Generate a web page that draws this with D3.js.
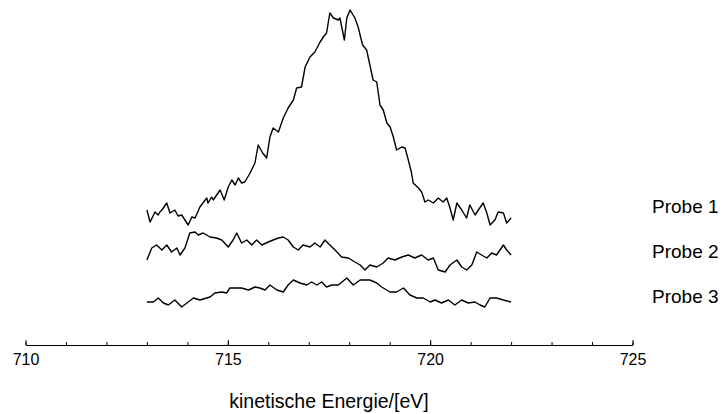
<!DOCTYPE html>
<html>
<head>
<meta charset="utf-8">
<script src="https://cdn.jsdelivr.net/npm/d3@7"></script>
<style>
  html, body { margin: 0; padding: 0; background: #fff; }
  svg { display: block; font-family: "Liberation Sans", Arial, Helvetica, sans-serif; }
</style>
</head>
<body>
<svg id="chart" width="724" height="414"></svg>
<script>
// ---- data (kinetic energy in eV, intensity in arbitrary units, offset stacked) ----
const energy1 = [713.00,713.08,713.20,713.28,713.32,713.37,713.49,713.57,713.69,713.77,713.86,713.94,714.02,714.11,714.19,714.31,714.44,714.48,714.51,714.60,714.64,714.81,714.91,715.01,715.10,715.18,715.26,715.34,715.42,715.55,715.67,715.75,715.86,715.96,716.04,716.12,716.25,716.37,716.49,716.62,716.70,716.82,716.91,717.03,717.15,717.28,717.36,717.44,717.52,717.61,717.73,717.77,717.88,717.94,718.02,718.14,718.22,718.33,718.43,718.51,718.59,718.68,718.76,718.84,718.93,719.01,719.09,719.17,719.30,719.38,719.46,719.54,719.58,719.71,719.79,719.87,719.95,720.08,720.20,720.32,720.41,720.49,720.57,720.66,720.78,720.90,720.98,721.11,721.19,721.31,721.40,721.48,721.60,721.68,721.81,721.89,722.00];
const probe1 = [110,98,108,105,108,110,117,107,110,104,105,100,95,103,102,113,120,122,117,123,120,130,120,133,140,135,142,137,138,147,157,175,167,162,183,192,188,202,212,220,232,233,253,263,268,278,283,287,307,302,300,302,280,302,310,302,293,275,270,255,240,238,215,210,197,193,183,170,173,172,160,147,137,132,128,118,120,117,122,118,122,112,100,117,110,102,115,105,110,117,107,95,100,108,107,97,102];

const energy2 = [713.00,713.12,713.24,713.37,713.49,713.61,713.74,713.82,713.94,714.06,714.19,714.27,714.39,714.56,714.72,714.85,715.01,715.13,715.22,715.34,715.47,715.59,715.71,715.84,716.00,716.12,716.25,716.37,716.49,716.62,716.74,716.86,717.03,717.15,717.28,717.40,717.52,717.65,717.81,717.98,718.14,718.27,718.39,718.51,718.68,718.84,718.96,719.13,719.30,719.46,719.62,719.79,719.95,720.08,720.20,720.37,720.49,720.66,720.78,720.90,721.03,721.15,721.27,721.40,721.52,721.64,721.81,721.89,722.00];
const probe2 = [60,72,75,70,75,68,72,65,72,87,88,85,87,83,82,80,73,80,87,77,80,75,80,75,78,80,82,83,80,73,70,75,73,77,73,80,75,70,63,62,58,55,50,55,53,57,62,60,63,65,62,65,60,62,50,48,55,60,53,50,55,68,65,62,67,65,75,70,65];

const energy3 = [713.00,713.16,713.28,713.41,713.53,713.69,713.86,714.02,714.15,714.31,714.56,714.68,714.85,714.97,715.05,715.34,715.51,715.67,715.79,715.92,716.04,716.21,716.37,716.49,716.62,716.78,716.95,717.07,717.20,717.32,717.44,717.57,717.73,717.94,718.10,718.27,718.51,718.68,718.80,719.01,719.17,719.34,719.50,719.67,719.83,720.00,720.12,720.28,720.45,720.61,720.78,720.94,721.11,721.23,721.35,721.48,721.64,721.81,722.00];
const probe3 = [18,18,22,17,15,20,13,18,22,20,23,27,28,27,32,32,30,33,32,30,35,30,28,35,40,37,35,38,35,38,33,35,35,42,35,40,40,37,33,28,28,32,25,22,22,18,20,17,20,15,20,17,18,15,13,22,22,20,18];

const seriesNames = ["Probe 1", "Probe 2", "Probe 3"];
const labelLevels = [107, 62, 17];          // intensity level at which each label sits
const xTicksMinor = d3.range(710, 726, 1);
const xTicksMajor = [710, 715, 720, 725];
const xTitle = "kinetische Energie/[eV]";

// ---- layout ----
const svg = d3.select("#chart");
const x = d3.scaleLinear().domain([710, 725]).range([25.5, 632.5]);
const y = d3.scaleLinear().domain([0, 310]).range([320, 10]);
const axisY = 345;

const line = d3.line().x(d => x(d[0])).y(d => y(d[1]));
const allSeries = [[energy1, probe1], [energy2, probe2], [energy3, probe3]];

svg.append("g").selectAll("path")
  .data(allSeries)
  .join("path")
  .attr("d", s => line(s[0].map((e, i) => [e, s[1][i]])))
  .attr("fill", "none")
  .attr("stroke", "#000")
  .attr("stroke-width", 1.4)
  .attr("stroke-linejoin", "round");

// labels
svg.append("g").selectAll("text")
  .data(seriesNames)
  .join("text")
  .attr("x", 652)
  .attr("y", (d, i) => y(labelLevels[i]))
  .attr("font-size", 19)
  .attr("fill", "#000")
  .text(d => d);

// axis: minor ticks
const gMinor = svg.append("g").attr("transform", `translate(0,${axisY})`)
  .call(d3.axisBottom(x).tickValues(xTicksMinor).tickSize(-3).tickSizeOuter(0).tickFormat(""));
gMinor.select(".domain").attr("stroke", "#000");
gMinor.selectAll(".tick line").attr("stroke", "#000");

const gMajor = svg.append("g").attr("transform", `translate(0,${axisY})`)
  .call(d3.axisBottom(x).tickValues(xTicksMajor).tickSize(-5).tickSizeOuter(0).tickPadding(9).tickFormat(d3.format("d")));
gMajor.select(".domain").remove();
gMajor.selectAll(".tick line").attr("stroke", "#000");
gMajor.selectAll(".tick text")
  .attr("font-size", 16)
  .attr("font-family", "Liberation Sans, Arial, sans-serif")
  .attr("fill", "#000");

svg.append("text")
  .attr("x", (x(710) + x(725)) / 2)
  .attr("y", 408)
  .attr("text-anchor", "middle")
  .attr("font-size", 19.5)
  .attr("fill", "#000")
  .text(xTitle);
</script>
</body>
</html>
